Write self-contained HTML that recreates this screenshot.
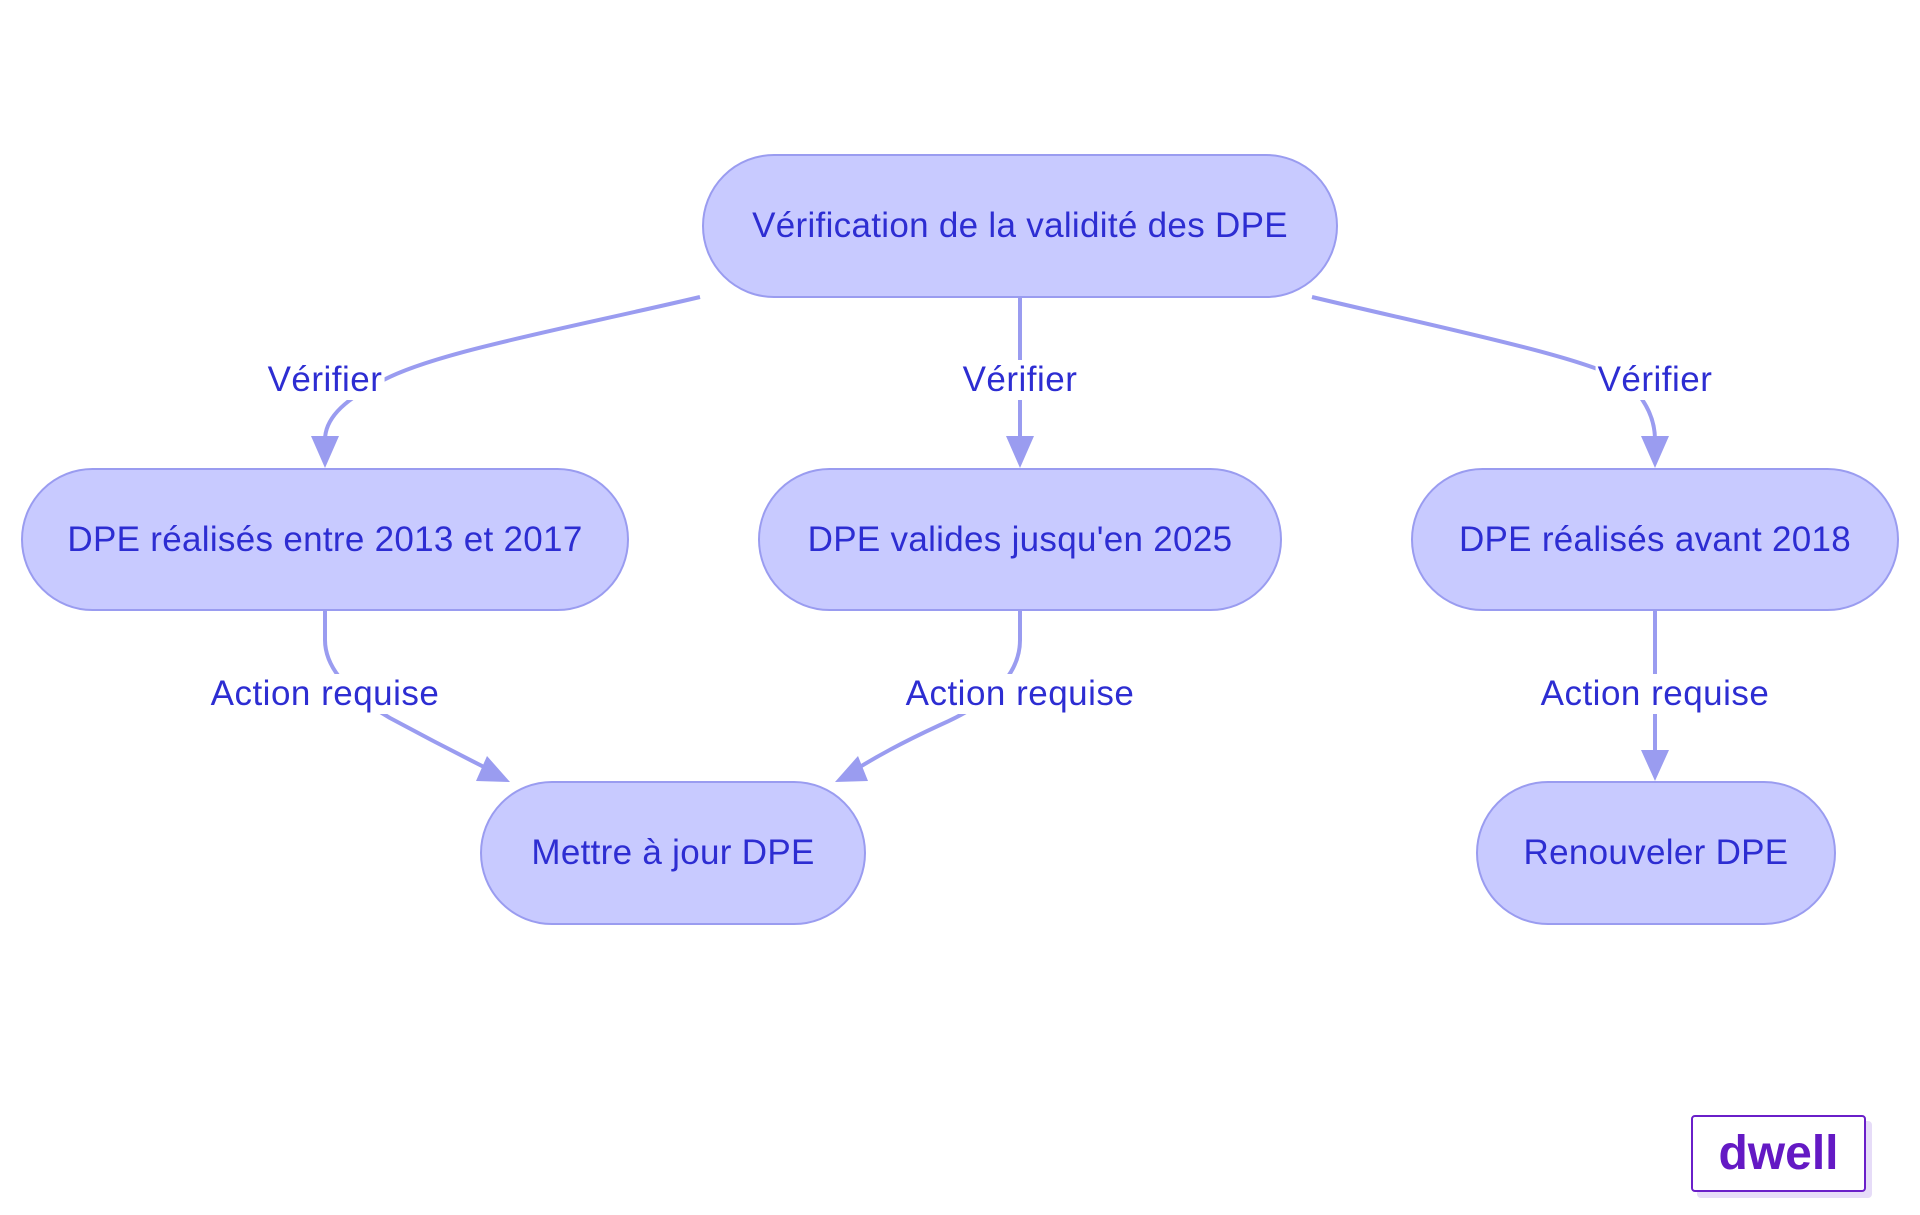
<!DOCTYPE html>
<html><head><meta charset="utf-8"><style>
body{margin:0;width:1920px;height:1215px;background:#fff;overflow:hidden;position:relative;font-family:"Liberation Sans",sans-serif}
.n{position:absolute;box-sizing:border-box;background:#c8caff;border:2px solid #9a9cf0;border-radius:72px;display:flex;align-items:center;justify-content:center;color:#2d2dd2;font-size:35px;letter-spacing:0.3px;white-space:nowrap}
.l{position:absolute;background:#fff;color:#2d2dd2;font-size:35px;transform:translate(-50%,-50%);padding:0 2px;letter-spacing:0.5px;line-height:40px;white-space:nowrap}
</style></head><body>
<svg width="1920" height="1215" style="position:absolute;left:0;top:0">
<g fill="none" stroke="#9a9cf0" stroke-width="4">
<path d="M700,297 C560,330 420,355 375,385 Q325,410 325,440"/>
<path d="M1312,297 C1450,330 1600,360 1630,385 Q1655,410 1655,440"/>
<path d="M1020,298 L1020,440"/>
<path d="M325,611 L325,640 Q325,680 390,718 Q440,745 490,770"/>
<path d="M1020,611 L1020,640 Q1020,690 940,725 Q890,748 855,770"/>
<path d="M1655,611 L1655,752"/>
</g>
<g fill="#9a9cf0">
<path d="M311,436 L339,436 L325,468z"/>
<path d="M1641,436 L1669,436 L1655,468z"/>
<path d="M1006,436 L1034,436 L1020,468z"/>
<path d="M1641,750 L1669,750 L1655,781z"/>
<path d="M487,756 L510,782 L476,781z"/>
<path d="M858,756 L835,782 L868,781z"/>
</g>
</svg>
<div class="n" style="left:702px;top:154px;width:636px;height:144px">Vérification de la validité des DPE</div>
<div class="n" style="left:21px;top:468px;width:608px;height:143px">DPE réalisés entre 2013 et 2017</div>
<div class="n" style="left:758px;top:468px;width:524px;height:143px">DPE valides jusqu'en 2025</div>
<div class="n" style="left:1411px;top:468px;width:488px;height:143px">DPE réalisés avant 2018</div>
<div class="n" style="left:480px;top:781px;width:386px;height:144px">Mettre à jour DPE</div>
<div class="n" style="left:1476px;top:781px;width:360px;height:144px">Renouveler DPE</div>
<div class="l" style="left:325px;top:380px">Vérifier</div>
<div class="l" style="left:1020px;top:380px">Vérifier</div>
<div class="l" style="left:1655px;top:380px">Vérifier</div>
<div class="l" style="left:325px;top:694px">Action requise</div>
<div class="l" style="left:1020px;top:694px">Action requise</div>
<div class="l" style="left:1655px;top:694px">Action requise</div>
<div style="position:absolute;left:1697px;top:1121px;width:175px;height:77px;background:#e6dcf8;border-radius:4px"></div>
<div style="position:absolute;left:1691px;top:1115px;width:175px;height:77px;box-sizing:border-box;background:#fff;border:2px solid #6a1fc9;border-radius:4px;display:flex;align-items:center;justify-content:center;color:#6419c4;font-weight:bold;font-size:48px">dwell</div>
</body></html>
